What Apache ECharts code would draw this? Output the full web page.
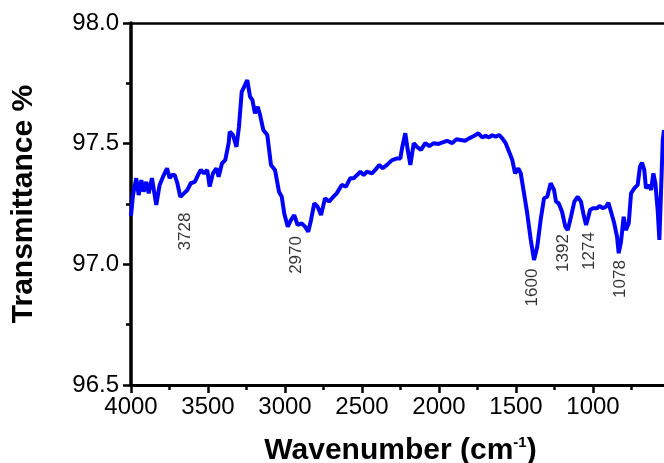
<!DOCTYPE html>
<html>
<head>
<meta charset="utf-8">
<script src="https://cdn.jsdelivr.net/npm/echarts@6/dist/echarts.min.js"></script>
<style>
html,body{margin:0;padding:0;background:#fff;}
#chart{width:664px;height:463px;}
</style>
</head>
<body>
<div id="chart"></div>
<script>
// Wavenumber (cm-1)
const wavenumber = [4000,3987,3966,3950,3933,3918,3901,3885,3864,3836,3814,3792,3766,3749,3734,3716,3699,3680,3656,3634,3612,3586,3565,3547,3526,3505,3489,3468,3446,3431,3409,3388,3366,3359,3338,3315,3299,3281,3260,3245,3227,3212,3195,3177,3162,3141,3115,3091,3065,3039,3021,3005,2982,2961,2940,2918,2892,2870,2849,2831,2810,2788,2766,2740,2714,2686,2664,2632,2604,2576,2554,2532,2511,2489,2468,2435,2414,2388,2366,2338,2305,2273,2251,2240,2219,2203,2186,2164,2143,2117,2089,2063,2034,2002,1981,1948,1914,1888,1859,1831,1805,1773,1745,1719,1697,1675,1654,1632,1610,1589,1567,1545,1524,1506,1485,1469,1448,1427,1404,1383,1362,1340,1318,1297,1275,1253,1240,1223,1201,1180,1164,1143,1121,1099,1078,1063,1045,1030,1019,1002,976,955,937,916,900,883,862,844,833,818,801,786,768,753,732,710,695,682,667,656,638,623,608,595,580,569,558,547,539];
// Transmittance %
const transmittance = [97.200,97.287,97.357,97.287,97.349,97.301,97.342,97.294,97.357,97.246,97.329,97.363,97.398,97.357,97.370,97.370,97.336,97.280,97.294,97.308,97.336,97.342,97.370,97.391,97.377,97.391,97.322,97.377,97.398,97.363,97.419,97.432,97.502,97.550,97.536,97.487,97.570,97.715,97.743,97.764,97.695,97.681,97.626,97.653,97.619,97.557,97.536,97.412,97.391,97.301,97.280,97.211,97.156,97.184,97.204,97.163,97.170,97.156,97.135,97.184,97.253,97.239,97.204,97.274,97.260,97.280,97.294,97.329,97.322,97.357,97.357,97.370,97.384,97.370,97.384,97.377,97.391,97.412,97.398,97.412,97.432,97.439,97.439,97.481,97.543,97.474,97.412,97.502,97.487,97.474,97.502,97.490,97.502,97.499,97.504,97.512,97.502,97.518,97.515,97.512,97.522,97.532,97.543,97.526,97.532,97.526,97.535,97.529,97.536,97.522,97.502,97.467,97.432,97.377,97.398,97.377,97.294,97.211,97.101,97.018,97.073,97.184,97.274,97.280,97.336,97.308,97.260,97.253,97.218,97.156,97.142,97.197,97.260,97.280,97.260,97.211,97.163,97.197,97.225,97.232,97.232,97.242,97.232,97.239,97.255,97.218,97.170,97.115,97.046,97.094,97.197,97.142,97.170,97.294,97.315,97.329,97.405,97.421,97.391,97.315,97.329,97.308,97.377,97.336,97.225,97.101,97.101,97.515,97.557];

// Peak annotations (text and where it is written)
const peakText = ['3728','2970','1600','1392','1274','1078'];
const peakLabelX = [3646,2929,1396,1192,1026,825];
const peakLabelY = [97.136,97.039,96.904,97.047,97.055,96.939];

const xTicks = {min: 500, max: 4000, interval: 500};
const yTicks = {min: 96.5, max: 98.0, interval: 0.5};

const FONT = '"Liberation Sans", Arial, sans-serif';

const lineData = wavenumber.map((w, i) => [w, transmittance[i]]);
const peakData = peakText.map((t, i) => ({name: t, value: [peakLabelX[i], peakLabelY[i]]}));

const chart = echarts.init(document.getElementById('chart'), null, {renderer: 'canvas'});
chart.setOption({
  animation: false,
  backgroundColor: '#ffffff',
  grid: {left: 131, top: 23, right: -6, bottom: 78, containLabel: false, outerBoundsMode: 'none'},
  xAxis: [{
    type: 'value',
    inverse: true,
    min: xTicks.min, max: xTicks.max, interval: xTicks.interval,
    name: '{b|Wavenumber (cm}{s|-1}{b|)}',
    nameLocation: 'middle',
    nameGap: 50,
    nameTextStyle: {
      rich: {
        b: {fontFamily: FONT, fontWeight: 'bold', fontSize: 30, color: '#000'},
        s: {fontFamily: FONT, fontWeight: 'bold', fontSize: 15, color: '#000', verticalAlign: 'top', padding: [0, 0, 16, 0]}
      }
    },
    axisLine: {show: true, onZero: false, lineStyle: {color: '#000', width: 3}},
    axisTick: {show: true, inside: false, length: 8, lineStyle: {color: '#000', width: 2.5}},
    minorTick: {show: true, splitNumber: 2, length: 5, lineStyle: {color: '#000', width: 2.5}},
    axisLabel: {show: true, showMinLabel: false, margin: 10, fontFamily: FONT, fontSize: 24, color: '#000', formatter: v => String(v)},
    splitLine: {show: false}
  }, {
    type: 'value',
    position: 'top',
    inverse: true,
    min: xTicks.min, max: xTicks.max, interval: xTicks.interval,
    axisLine: {show: true, onZero: false, lineStyle: {color: '#000', width: 2.5}},
    axisTick: {show: false},
    axisLabel: {show: false},
    splitLine: {show: false}
  }],
  yAxis: {
    type: 'value',
    min: yTicks.min, max: yTicks.max, interval: yTicks.interval,
    name: 'Transmittance %',
    nameLocation: 'middle',
    nameGap: 92,
    nameTextStyle: {fontFamily: FONT, fontWeight: 'bold', fontSize: 30, color: '#000'},
    axisLine: {show: true, onZero: false, lineStyle: {color: '#000', width: 3.5}},
    axisTick: {show: true, inside: false, length: 8, lineStyle: {color: '#000', width: 2.5}},
    minorTick: {show: true, splitNumber: 2, length: 5, lineStyle: {color: '#000', width: 2.5}},
    axisLabel: {margin: 12, fontFamily: FONT, fontSize: 24, color: '#000', formatter: v => v.toFixed(1)},
    splitLine: {show: false}
  },
  series: [{
    type: 'line',
    xAxisIndex: 0,
    data: lineData,
    showSymbol: false,
    symbol: 'none',
    smooth: false,
    lineStyle: {color: '#0000FF', width: 4},
    z: 3
  }, {
    type: 'scatter',
    xAxisIndex: 0,
    data: peakData,
    symbolSize: 1,
    itemStyle: {color: 'rgba(0,0,0,0)'},
    label: {
      show: true,
      position: 'inside',
      rotate: 90,
      align: 'center',
      verticalAlign: 'middle',
      formatter: p => p.name,
      fontFamily: FONT,
      fontSize: 17,
      color: '#000'
    },
    z: 4
  }]
});
</script>
</body>
</html>
